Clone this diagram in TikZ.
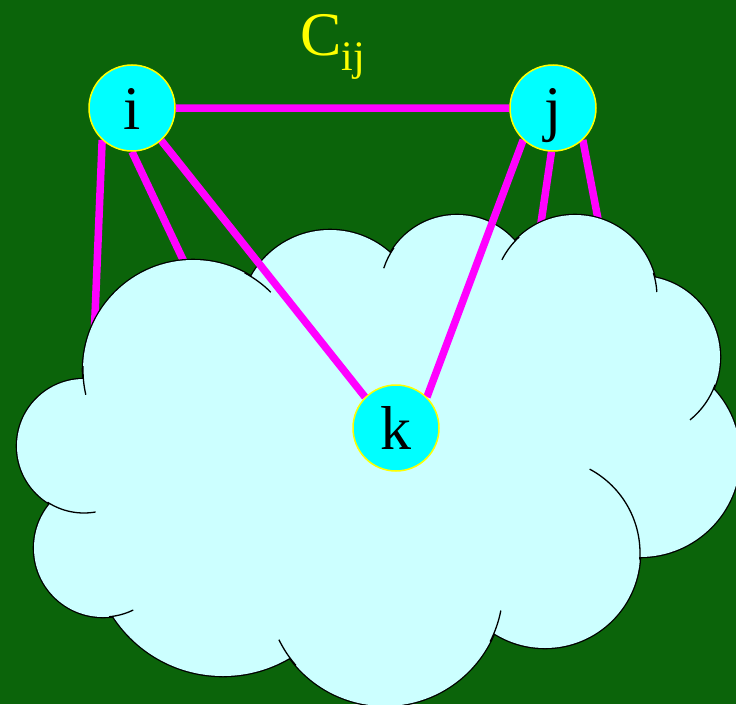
\documentclass[tikz,border=0pt]{standalone}
\usepackage{fontspec}
\setmainfont{Liberation Serif}
\usepackage{xcolor}
\usepackage{tikz}
\usetikzlibrary{positioning, backgrounds}

\definecolor{pptgreen}{RGB}{11,100,10}
\definecolor{cloudcyan}{RGB}{204,255,255}
\definecolor{nodecyan}{RGB}{0,255,255}
\definecolor{linkmagenta}{RGB}{255,0,255}
\definecolor{pptyellow}{RGB}{255,255,0}

\begin{document}
\begin{tikzpicture}[x=1pt, y=1pt, on grid,
        vertex/.style={circle, draw=pptyellow, line width=1.5pt, fill=nodecyan, minimum size=86pt, inner sep=0pt,
                       font=\fontsize{62}{62}\selectfont, text height=43pt, text depth=0pt},
        link/.style={draw=linkmagenta, line width=7.5pt},
        puff/.style={draw=black, line width=2.6pt},
        hook/.style={draw=black, line width=1.3pt}]
        \useasboundingbox (0,0) rectangle (736,-704);

        \node[vertex] (i) at (132,-108) {i};
        \node[vertex] (j) [right=421pt of i] {j};
        \node[vertex] (k) at (396,-428) {k};
        \node[text=pptyellow, font=\fontsize{62}{62}\selectfont, anchor=base west, inner sep=0pt] (cij) at (300,-55)
                {C\raisebox{-15pt}{\fontsize{42}{42}\selectfont ij}};

        % loose ends, hidden under the cloud
        \coordinate (iw) at (94,-340);
        \coordinate (im) at (195,-285);
        \coordinate (ja) at (537,-250);
        \coordinate (jb) at (603,-245);

        \begin{pgfonlayer}{background}
        \fill[pptgreen] (0,0) rectangle (736,-704);
        \path[link]
        (i.227) -- (iw)
        (i.270) -- (im)
        (j.268) -- (ja)
        (j.313) -- (jb);

        % cloud: outlined puffs, refilled so only the rim is left
        \foreach \cx/\cy/\r in {193/370/110, 330/320/90, 457/292/77, 575/297/82, 639/357/81, 640/457/100,
                                545/553/95, 385/588/118, 223/545/131, 103/548/69, 84/446/67}
                \path[puff] (\cx,-\cy) circle[radius=\r];
        \fill[cloudcyan] (193,-370) -- (330,-320) -- (457,-292) -- (575,-297) -- (639,-357) -- (640,-457)
                -- (545,-553) -- (385,-588) -- (223,-545) -- (103,-548) -- (84,-446) -- cycle;
        \foreach \cx/\cy/\r in {193/370/110, 330/320/90, 457/292/77, 575/297/82, 639/357/81, 640/457/100,
                                545/553/95, 385/588/118, 223/545/131, 103/548/69, 84/446/67}
                \fill[cloudcyan] (\cx,-\cy) circle[radius=\r];
        % the little hooks inside
        \foreach \cx/\cy/\r/\a/\b in {193/370/110/178/193, 193/370/110/62/45, 457/292/77/145/162,
                                      575/297/82/133/153, 575/297/82/17/3.5, 639/357/81/-20/-51,
                                      545/553/95/-4/62, 385/588/118/221/206, 385/588/118/333/349,
                                      103/548/69/-85/-64, 84/446/67/237/280}
                \draw[hook] (\cx,-\cy) ++(\a:\r) arc[start angle=\a, end angle=\b, radius=\r];

        \path[link]
        (i) -- (j)
        (i.312) -- (k.135)
        (j.227) -- (k.45);
        \end{pgfonlayer}
\end{tikzpicture}
\end{document}
